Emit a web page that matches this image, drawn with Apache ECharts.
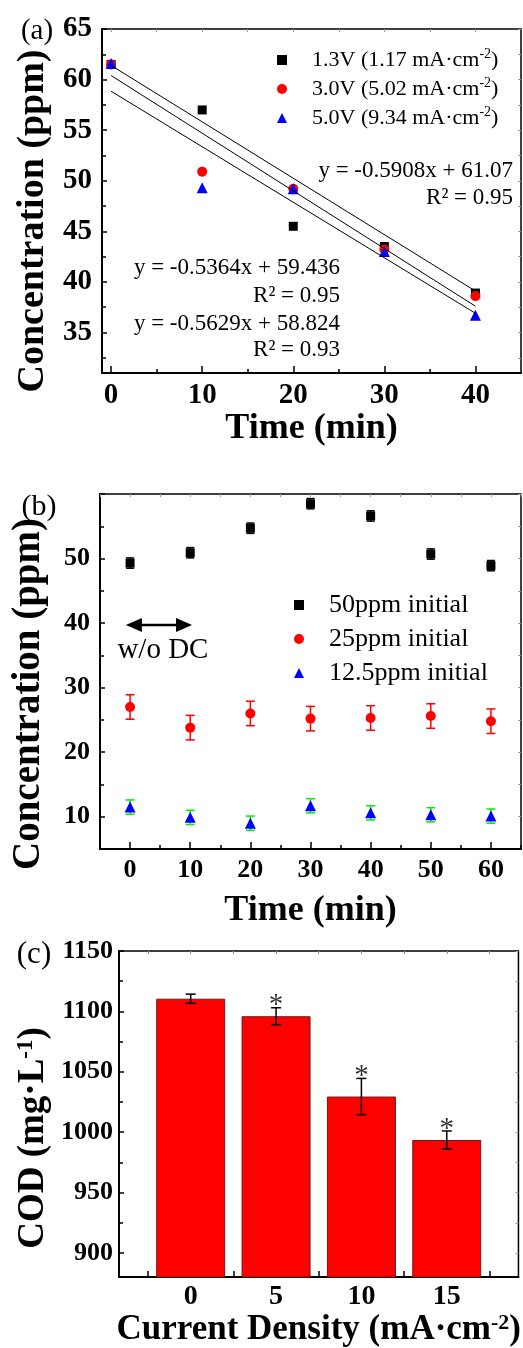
<!DOCTYPE html>
<html><head><meta charset="utf-8">
<script src="https://cdn.jsdelivr.net/npm/echarts@6/dist/echarts.min.js"></script>
<style>html,body{margin:0;padding:0;background:#fff}#c{width:523px;height:1348px}</style>
</head><body><div id="c"></div>
<script>
// ---------- Panel (a) ----------
const timeA = [0, 10, 20, 30, 40];
const conc13V = [61.5, 57.0, 45.5, 43.5, 38.9];
const conc30V = [61.5, 50.9, 49.2, 43.2, 38.6];
const conc50V = [61.6, 49.3, 49.2, 43.0, 36.7];
const fitX = [0, 40];
const fit13V = [61.4, 39.1];
const fit30V = [60.4, 37.6];
const fit50V = [58.85, 36.9];
const namesA = ['1.3V (1.17 mA·cm-2)', '3.0V (5.02 mA·cm-2)', '5.0V (9.34 mA·cm-2)'];
const eqRight = ['y = -0.5908x + 61.07', 'R² = 0.95'];
const eqLeft = ['y = -0.5364x + 59.436', 'R² = 0.95', 'y = -0.5629x + 58.824', 'R² = 0.93'];
const aXLabels = [0, 10, 20, 30, 40];
const aXMinor = [5, 15, 25, 35];
const aYLabels = [35, 40, 45, 50, 55, 60, 65];
const aYMinor = [32.5, 37.5, 42.5, 47.5, 52.5, 57.5, 62.5];

// ---------- Panel (b) ----------
const timeB = [0, 10, 20, 30, 40, 50, 60];
const b50 = [49.3, 50.9, 54.7, 58.5, 56.6, 50.7, 48.9];
const b50Err = [0.8, 0.8, 0.8, 0.8, 0.8, 0.8, 0.8];
const b25 = [27.0, 23.8, 26.0, 25.2, 25.3, 25.6, 24.8];
const b25Err = [1.9, 1.9, 1.9, 1.9, 1.9, 1.9, 1.9];
const b12 = [11.5, 9.9, 9.0, 11.7, 10.6, 10.3, 10.1];
const b12Err = [1.1, 1.1, 1.1, 1.1, 1.1, 1.1, 1.1];
const namesB = ['50ppm initial', '25ppm initial', '12.5ppm initial'];
const arrowSpan = [[-0.7, 10.3, 39.7]]; // [x start, x end, y] of the "w/o DC" arrow
const arrowLabel = 'w/o DC';
const bXLabels = [0, 10, 20, 30, 40, 50, 60];
const bXMinor = [-5, 5, 15, 25, 35, 45, 55, 65];
const bYLabels = [10, 20, 30, 40, 50];
const bYMajorTicks = [10, 20, 30, 40, 50, 60];
const bYMinor = [15, 25, 35, 45, 55];

// ---------- Panel (c) ----------
const density = [0, 5, 10, 15];
const cod = [1110.5, 1096, 1029.5, 993.5];
const codErr = [3.8, 7, 15, 7.5];
const significant = [false, true, true, true];
const cXLabels = [0, 5, 10, 15];
const cXTicks = [-2.5, 2.5, 7.5, 12.5, 17.5];
const cYLabels = [900, 950, 1000, 1050, 1100, 1150];
const cYMinor = [925, 975, 1025, 1075, 1125];

const FONT = 'Liberation Serif';

function supRich(s) {
  const m = s.match(/^(.*?)(-\d)(\)?)$/);
  if (!m) return '{t|' + s + '}';
  return '{t|' + m[1] + '}{s|' + m[2] + '}{t|' + m[3] + '}';
}
function richStyles(size, weight, lh) {
  return {
    t: { fontSize: size, fontWeight: weight, fontFamily: FONT, color: '#000', lineHeight: lh },
    s: { fontSize: Math.round(size * 0.62), fontWeight: weight, fontFamily: FONT, color: '#000', verticalAlign: 'top', lineHeight: Math.round(size * 0.72) },
    g: { width: 20 }
  };
}

function axisTrio(dim, grid, min, max, labelVals, majorTicks, minorVals, fontSize, margin, name, nameGap, nameSize, majorLen) {
  const pos = dim === 'x' ? 'bottom' : 'left';
  const opp = dim === 'x' ? 'top' : 'right';
  const main = {
    type: 'value', gridIndex: grid, min: min, max: max, position: pos,
    axisLine: { show: true, onZero: false, lineStyle: { color: '#000', width: 2 } },
    axisTick: { show: majorTicks.length > 0, inside: true, length: majorLen, customValues: majorTicks, lineStyle: { color: '#000', width: 1.5 } },
    axisLabel: { customValues: labelVals, formatter: v => String(v), fontSize: fontSize, fontWeight: 'bold', fontFamily: FONT, color: '#000', margin: margin },
    splitLine: { show: false }
  };
  if (name) {
    main.name = supRich(name); main.nameLocation = 'middle'; main.nameGap = nameGap;
    main.nameTextStyle = { fontSize: nameSize, fontWeight: 'bold', fontFamily: FONT, color: '#000', rich: richStyles(nameSize, 'bold', nameSize) };
  }
  const minor = {
    type: 'value', gridIndex: grid, min: min, max: max, position: pos,
    axisLine: { show: false, onZero: false },
    axisTick: { show: true, inside: true, length: 4, customValues: minorVals, lineStyle: { color: '#000', width: 1.5 } },
    axisLabel: { show: false }, splitLine: { show: false }
  };
  const mirror = {
    type: 'value', gridIndex: grid, min: min, max: max, position: opp,
    axisLine: { show: false, onZero: false },
    axisTick: { show: true, inside: true, length: 3, customValues: majorTicks.concat(minorVals), lineStyle: { color: '#999', width: 1 } },
    axisLabel: { show: false }, splitLine: { show: false }
  };
  return [main, minor, mirror];
}

function errRender(color, capHalf, lw) {
  return function (params, api) {
    const x = api.value(0), lo = api.value(1), hi = api.value(2);
    const p1 = api.coord([x, lo]), p2 = api.coord([x, hi]);
    const st = { stroke: color, lineWidth: lw };
    return {
      type: 'group', children: [
        { type: 'line', shape: { x1: p1[0], y1: p1[1], x2: p2[0], y2: p2[1] }, style: st },
        { type: 'line', shape: { x1: p1[0] - capHalf, y1: p1[1], x2: p1[0] + capHalf, y2: p1[1] }, style: st },
        { type: 'line', shape: { x1: p2[0] - capHalf, y1: p2[1], x2: p2[0] + capHalf, y2: p2[1] }, style: st }
      ]
    };
  };
}
function arrowRender(params, api) {
  const a = api.coord([api.value(0), api.value(2)]);
  const b = api.coord([api.value(1), api.value(2)]);
  const L = 16, H = 7;
  return {
    type: 'group', children: [
      { type: 'line', shape: { x1: a[0] + L - 2, y1: a[1], x2: b[0] - L + 2, y2: b[1] }, style: { stroke: '#000', lineWidth: 2.5 } },
      { type: 'polygon', shape: { points: [[a[0], a[1]], [a[0] + L, a[1] - H], [a[0] + L, a[1] + H]] }, style: { fill: '#000' } },
      { type: 'polygon', shape: { points: [[b[0], b[1]], [b[0] - L, b[1] - H], [b[0] - L, b[1] + H]] }, style: { fill: '#000' } },
      { type: 'text', x: (a[0] + b[0]) / 2 + 4, y: a[1] + 25,
        style: { text: arrowLabel, fontSize: 29, fontFamily: FONT, fill: '#000', align: 'center', verticalAlign: 'middle' } }
    ]
  };
}
function errData(xs, ys, es) { return xs.map((x, i) => [x, ys[i] - es[i], ys[i] + es[i]]); }
function pairs(xs, ys) { return xs.map((x, i) => [x, ys[i]]); }

const xAxes = [].concat(
  axisTrio('x', 0, -1, 45, aXLabels, aXLabels, aXMinor, 29, 8, 'Time (min)', 33, 36, 7),
  axisTrio('x', 1, -5, 65, bXLabels, bXLabels, bXMinor, 26, 8, 'Time (min)', 44, 36, 7),
  axisTrio('x', 2, -4.2, 19.2, cXLabels, [], cXTicks, 28, 6, 'Current Density (mA·cm-2)', 32, 35, 6)
);
xAxes[7].axisTick.length = 6;
xAxes[8].axisTick.customValues = cXTicks.concat(cXLabels);

const yAxes = [].concat(
  axisTrio('y', 0, 31, 65, aYLabels, aYLabels, aYMinor, 29, 10, null, 0, 0, 5),
  axisTrio('y', 1, 5, 60, bYLabels, bYMajorTicks, bYMinor, 26, 10, null, 0, 0, 5),
  axisTrio('y', 2, 880, 1150, cYLabels, cYLabels, cYMinor, 26, 6, null, 0, 0, 5)
);

const gridStyle = { show: true, borderColor: '#000', borderWidth: 1.5, backgroundColor: 'transparent' };

function gtext(text, x, y, size, weight, align, rot, rich) {
  const st = { text: text, fontSize: size, fontWeight: weight, fontFamily: FONT, fill: '#000',
    align: align, verticalAlign: 'middle', textAlign: align, textVerticalAlign: 'middle' };
  if (rich) st.rich = rich;
  return { type: 'text', x: x, y: y, rotation: rot || 0, style: st };
}

const option = {
  animation: false,
  backgroundColor: '#fff',
  textStyle: { fontFamily: FONT },
  grid: [
    Object.assign({ left: 102, top: 29, right: 2, height: 344 }, gridStyle),
    Object.assign({ left: 100, top: 494, right: 2, height: 355 }, gridStyle),
    Object.assign({ left: 119, top: 951, right: 3, height: 328 }, gridStyle)
  ],
  xAxis: xAxes,
  yAxis: yAxes,
  legend: [
    {
      data: namesA, orient: 'vertical', left: 272, top: 42, itemWidth: 10, itemHeight: 10, itemGap: 5,
      formatter: n => '{g| }' + supRich(n),
      textStyle: { fontSize: 22, fontFamily: FONT, color: '#000', rich: richStyles(22, 'normal', 26) }
    },
    {
      data: namesB, orient: 'vertical', left: 289, top: 587, itemWidth: 10, itemHeight: 10, itemGap: 8,
      formatter: n => '{g| }{t|' + n + '}',
      textStyle: { fontSize: 26, fontFamily: FONT, color: '#000', rich: richStyles(26, 'normal', 26) }
    }
  ],
  graphic: [
    gtext('(a)', 37, 31, 29, 'normal', 'center'),
    gtext('(b)', 39, 507, 30, 'normal', 'center'),
    gtext('(c)', 34, 955, 31, 'normal', 'center'),
    gtext('Concentration (ppm)', 33, 221, 38, 'bold', 'center', Math.PI / 2),
    gtext('Concentration (ppm)', 29, 694, 39, 'bold', 'center', Math.PI / 2),
    gtext(supRich('COD (mg·L-1)'), 33, 1138, 37, 'bold', 'center', Math.PI / 2, richStyles(37, 'bold', 37)),
    gtext(eqRight[0], 513, 171, 23, 'normal', 'right'),
    gtext(eqRight[1], 513, 198, 23, 'normal', 'right'),
    gtext(eqLeft[0], 340, 268, 23, 'normal', 'right'),
    gtext(eqLeft[1], 340, 296, 23, 'normal', 'right'),
    gtext(eqLeft[2], 340, 324, 23, 'normal', 'right'),
    gtext(eqLeft[3], 340, 350, 23, 'normal', 'right')
  ],
  series: [
    // ---- (a) fit lines ----
    { type: 'line', xAxisIndex: 0, yAxisIndex: 0, data: pairs(fitX, fit13V), symbol: 'none', lineStyle: { color: '#000', width: 1 }, silent: true },
    { type: 'line', xAxisIndex: 0, yAxisIndex: 0, data: pairs(fitX, fit30V), symbol: 'none', lineStyle: { color: '#000', width: 1 }, silent: true },
    { type: 'line', xAxisIndex: 0, yAxisIndex: 0, data: pairs(fitX, fit50V), symbol: 'none', lineStyle: { color: '#000', width: 1 }, silent: true },
    // ---- (a) points ----
    { name: namesA[0], type: 'scatter', xAxisIndex: 0, yAxisIndex: 0, data: pairs(timeA, conc13V), symbol: 'rect', symbolSize: 9, itemStyle: { color: '#000', opacity: 1 } },
    { name: namesA[1], type: 'scatter', xAxisIndex: 0, yAxisIndex: 0, data: pairs(timeA, conc30V), symbol: 'circle', symbolSize: 10, itemStyle: { color: '#ff0000', opacity: 1 } },
    { name: namesA[2], type: 'scatter', xAxisIndex: 0, yAxisIndex: 0, data: pairs(timeA, conc50V), symbol: 'triangle', symbolSize: 11, itemStyle: { color: '#0000ff', opacity: 1 } },
    // ---- (b) arrow annotation ----
    { type: 'custom', xAxisIndex: 3, yAxisIndex: 3, data: arrowSpan, renderItem: arrowRender, silent: true },
    // ---- (b) error bars ----
    { type: 'custom', xAxisIndex: 3, yAxisIndex: 3, data: errData(timeB, b50, b50Err), renderItem: errRender('#000', 4, 1.5), silent: true },
    { type: 'custom', xAxisIndex: 3, yAxisIndex: 3, data: errData(timeB, b25, b25Err), renderItem: errRender('#ff0000', 4.5, 1.5), silent: true },
    { type: 'custom', xAxisIndex: 3, yAxisIndex: 3, data: errData(timeB, b12, b12Err), renderItem: errRender('#00ee00', 4.5, 1.5), silent: true },
    // ---- (b) points ----
    { name: namesB[0], type: 'scatter', xAxisIndex: 3, yAxisIndex: 3, data: pairs(timeB, b50), symbol: 'rect', symbolSize: 9, itemStyle: { color: '#000', opacity: 1 } },
    { name: namesB[1], type: 'scatter', xAxisIndex: 3, yAxisIndex: 3, data: pairs(timeB, b25), symbol: 'circle', symbolSize: 10, itemStyle: { color: '#ff0000', opacity: 1 } },
    { name: namesB[2], type: 'scatter', xAxisIndex: 3, yAxisIndex: 3, data: pairs(timeB, b12), symbol: 'triangle', symbolSize: 11, itemStyle: { color: '#0000ff', opacity: 1 } },
    // ---- (c) bars ----
    { type: 'bar', xAxisIndex: 6, yAxisIndex: 6, data: pairs(density, cod), barWidth: 69,
      itemStyle: { color: '#ff0000', borderColor: '#6b1a1a', borderWidth: 1 } },
    { type: 'custom', xAxisIndex: 6, yAxisIndex: 6, data: errData(density, cod, codErr), renderItem: errRender('#000', 5, 1.5), silent: true, z: 5 },
    { type: 'scatter', xAxisIndex: 6, yAxisIndex: 6,
      data: density.map((x, i) => [x, cod[i] + codErr[i]]).filter((d, i) => significant[i]),
      symbol: 'circle', symbolSize: 1, itemStyle: { color: 'rgba(0,0,0,0)' }, z: 6,
      label: { show: true, formatter: '*', position: 'inside', offset: [0, -2], fontSize: 29, fontFamily: FONT, color: '#000' } }
  ]
};

const chart = echarts.init(document.getElementById('c'), null, { renderer: 'canvas' });
chart.setOption(option);
</script>
</body></html>
